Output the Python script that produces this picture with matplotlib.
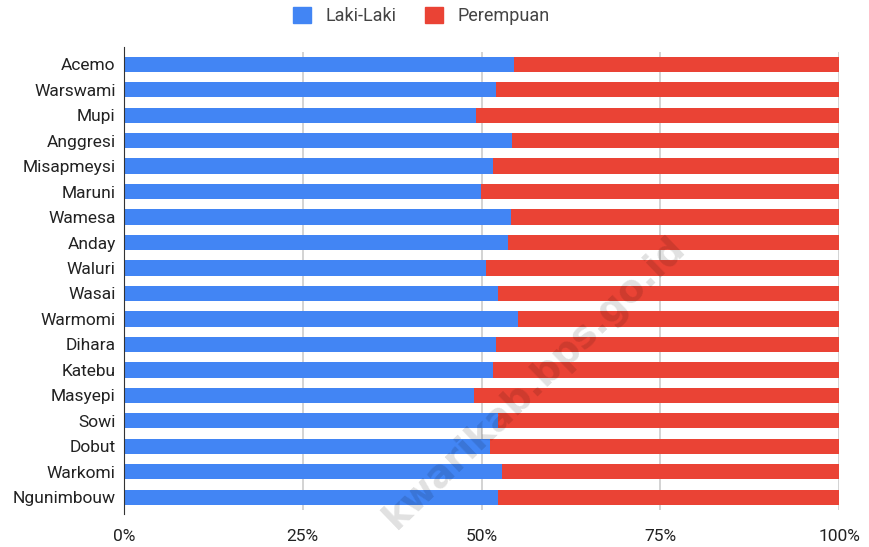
import numpy as np
import matplotlib
matplotlib.use('Agg')
from matplotlib import pyplot as plt
from matplotlib.patches import Patch

# Data (percent share)
villages = ['Acemo', 'Warswami', 'Mupi', 'Anggresi', 'Misapmeysi', 'Maruni', 'Wamesa',
            'Anday', 'Waluri', 'Wasai', 'Warmomi', 'Dihara', 'Katebu', 'Masyepi', 'Sowi',
            'Dobut', 'Warkomi', 'Ngunimbouw']
laki = [54.5, 52.0, 49.3, 54.3, 51.6, 49.9, 54.1, 53.7, 50.6, 52.3, 55.1, 52.0, 51.6,
        48.9, 52.3, 51.2, 52.9, 52.3]
perempuan = [100 - v for v in laki]
xticks = [0, 25, 50, 75, 100]
xticklabels = ['0%', '25%', '50%', '75%', '100%']

blue = '#4285f4'
red = '#ea4335'

plt.rcParams['font.family'] = ['Roboto', 'DejaVu Sans']

fig = plt.figure(figsize=(8.69, 5.47), dpi=100)
ax = fig.add_axes([124 / 869, 1 - 510 / 547, (839 - 124) / 869, (510 - 51.5) / 547])

y = np.arange(len(villages))
ax.barh(y, laki, height=0.6, color=blue, zorder=2)
ax.barh(y, perempuan, left=laki, height=0.6, color=red, zorder=2)

ax.set_ylim(len(villages) - 0.5, -0.5)
ax.set_xlim(0, 100)
ax.set_yticks(y)
ax.set_yticklabels(villages, fontsize=12.5, color='#222222')
ax.set_xticks(xticks)
ax.set_xticklabels(xticklabels, fontsize=12.5, color='#222222')
ax.tick_params(axis='y', length=0, pad=6)
ax.tick_params(axis='x', length=0, pad=14)

for s in ['top', 'right', 'bottom']:
    ax.spines[s].set_visible(False)
ax.spines['left'].set_color('#333333')
ax.spines['left'].set_zorder(3)
ax.spines['left'].set_bounds(-0.68, len(villages) - 0.33)
ax.xaxis.grid(True, color='#cccccc', lw=1.2, zorder=1)
ax.set_axisbelow(True)

handles = [Patch(facecolor=blue, edgecolor=blue), Patch(facecolor=red, edgecolor=red)]
fig.legend(handles, ['Laki-Laki', 'Perempuan'], loc='center', bbox_to_anchor=(0.485, 0.971),
           ncol=2, frameon=False, fontsize=13, handlelength=1.0, handleheight=1.0,
           handletextpad=0.8, columnspacing=1.6, labelcolor='#444444')

# watermark
fig.text(0.615, 0.3, 'kwarikab.bps.go.id', fontsize=27, fontweight='bold',
         color='black', alpha=0.12, rotation=44, ha='center', va='center',
         family='DejaVu Sans')

fig.savefig('out.png', dpi=100)
